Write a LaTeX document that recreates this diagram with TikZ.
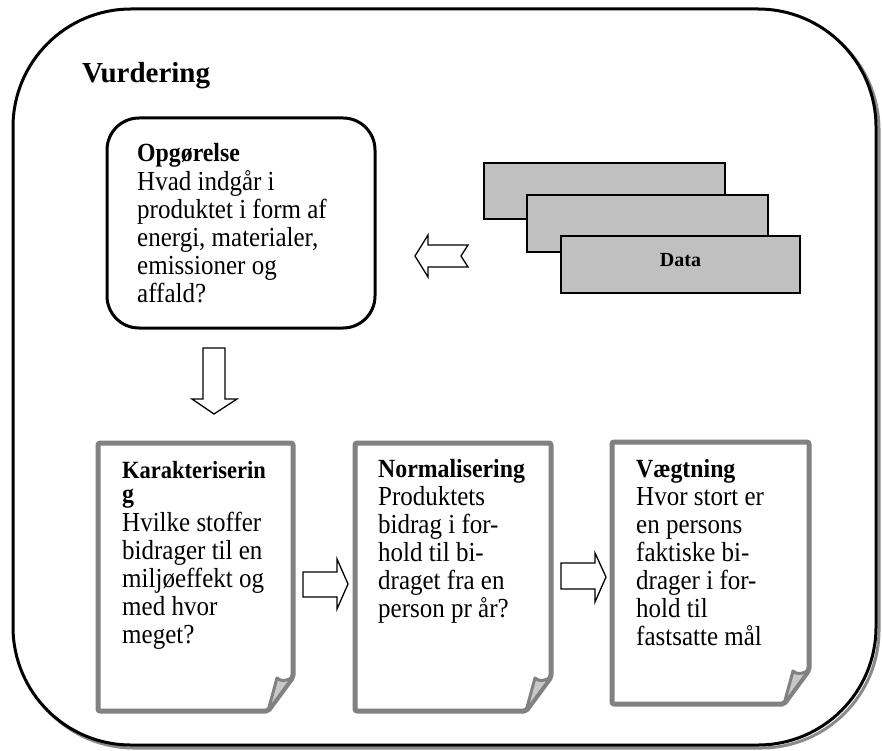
\documentclass[tikz,border=0pt]{standalone}
\usepackage{fontspec}
\setmainfont{Liberation Serif}

% bold heading inside a text block
\newcommand\boxhead[1]{{\bfseries\fontsize{23.8}{25.5}\selectfont #1}}
% a sheet of paper with a dog-eared lower right corner
\newcommand\docpage[5]{%
  \draw[pagebox] (#1,#2) -- (#3,#2) -- (#3,#4-34) -- (#3-25,#4) -- (#1,#4) -- cycle;
  \draw[flap] (#3-25,#4) -- (#3-16,#4-33)
    .. controls (#3-12,#4-29) and (#3-6,#4-30) .. (#3,#4-34) -- cycle;
  \coordinate (#5w) at (#1,#2/2+#4/2);
  \coordinate (#5e) at (#3,#2/2+#4/2);
  \coordinate (#5n) at (#1/2+#3/2,#2);
}

\begin{document}
\begin{tikzpicture}[x=1pt,y=-1pt,
  frame/.style={line width=3pt, rounded corners=118pt},
  opgbox/.style={draw, line width=3pt, rounded corners=32pt, fill=white,
    minimum width=268pt, minimum height=210pt, inner sep=0pt},
  datbox/.style={draw, line width=1.2pt, fill=datagray, inner sep=0pt},
  pagebox/.style={draw=pagegray, line width=5pt, fill=white, rounded corners=2pt,
    line join=round},
  flap/.style={draw=pagegray, line width=3pt, fill=flapgray, line join=round},
  blockarrow/.style={draw, line width=1.3pt, fill=white, line join=miter},
  txt/.style={anchor=base west, inner sep=0pt, yscale=1.1, transform shape,
    font=\fontsize{25}{25.5}\selectfont},
]
\definecolor{datagray}{HTML}{C0C0C0}
\definecolor{pagegray}{HTML}{818181}
\definecolor{flapgray}{HTML}{C8C8C8}
\definecolor{shadowgray}{HTML}{8A8A8A}

\useasboundingbox (0,0) rectangle (882,751);

% outer frame with its shadow
\draw[frame, shadowgray] (16,12) rectangle (879,748);
\draw[frame, fill=white] (13,9) rectangle (876,745);
\node[anchor=base west, inner sep=0pt, font=\bfseries\fontsize{29}{32}\selectfont]
  (title) at (82,83) {Vurdering};

% inventory box
\node[opgbox] (opg) at (241,223) {};
\node[txt] (opgtxt) at (137,162) {\parbox[t]{230pt}{\raggedright
  \boxhead{Opgørelse}\\
  Hvad indgår i\\
  produktet i form af\\
  energi, materialer,\\
  emissioner og\\
  affald?}};

% stacked data sheets
\node[datbox, minimum width=241pt, minimum height=56pt] (d1) at (604.5,191) {};
\node[datbox, minimum width=241pt, minimum height=57pt] (d2) at (647.5,223.5) {};
\node[datbox, minimum width=239pt, minimum height=57pt] (d3) at (680.5,264.5) {};
\node[font=\bfseries\fontsize{20}{24}\selectfont, inner sep=0pt, yshift=4pt]
  (dtxt) at (d3) {Data};

% hollow arrows
\draw[blockarrow] (415,256) -- (428,235) -- (428,245) -- (468,245) -- (461,256)
  -- (468,267) -- (428,267) -- (428,277) -- cycle;
\draw[blockarrow] (203,348) -- (225,348) -- (225,399) -- (237,399) -- (214,414)
  -- (192,399) -- (203,399) -- cycle;
\draw[blockarrow] (303,572) -- (337,572) -- (337,559) -- (348,584) -- (337,609)
  -- (337,597) -- (303,597) -- cycle;
\draw[blockarrow] (561,563) -- (595,563) -- (595,553) -- (606,577) -- (595,602)
  -- (595,589) -- (561,589) -- cycle;

% the three assessment steps
\docpage{98}{443}{293}{711}{kar}
\docpage{355}{443}{551}{711}{nor}
\docpage{612}{442}{809}{704}{vae}

\node[txt] (kartxt) at (122,478) {\parbox[t]{170pt}{\raggedright
  \boxhead{\fontsize{22.5}{25.5}\selectfont Karakteriserin}\\[-2.8pt]
  \boxhead{g}\\
  Hvilke stoffer\\
  bidrager til en\\
  miljøeffekt og\\
  med hvor\\
  meget?}};
\node[txt] (nortxt) at (378,477) {\parbox[t]{170pt}{\raggedright
  \boxhead{Normalisering}\\
  Produktets\\
  bidrag i for-\\
  hold til bi-\\
  draget fra en\\
  person pr år?}};
\node[txt] (vaetxt) at (636,477) {\parbox[t]{170pt}{\raggedright
  \boxhead{Vægtning}\\
  Hvor stort er\\
  en persons\\
  faktiske bi-\\
  drager i for-\\
  hold til\\
  fastsatte mål}};
\end{tikzpicture}
\end{document}
